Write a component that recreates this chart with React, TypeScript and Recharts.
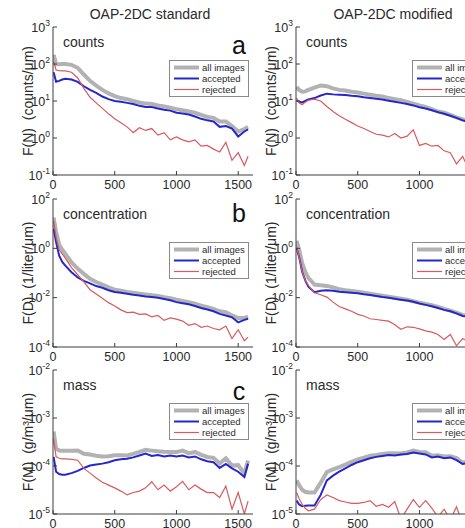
import React from 'react';
import { LineChart, Line, XAxis, YAxis, Legend } from 'recharts';

const FONT = '"Liberation Sans", Arial, Helvetica, sans-serif';
const AXIS_COLOR = '#3c3c3c';
const TEXT_COLOR = '#2a2a2a';

// size bins (µm)
const sizes = [5, 25, 50, 75, 100, 150, 200, 250, 300, 350, 400, 450, 500, 550, 600, 650, 700, 750, 800, 850, 900, 950, 1000, 1050, 1100, 1150, 1200, 1250, 1300, 1350, 1400, 1450, 1500, 1550, 1580];

// OAP-2DC standard
const stdCountsAll = [178, 100, 98, 100, 100, 95, 79, 52, 35, 26, 20, 16, 13.5, 12, 11.2, 10, 9.1, 8.5, 8.3, 7.6, 7.1, 6.6, 6.0, 5.6, 5.2, 4.8, 4.2, 3.7, 3.5, 2.8, 2.8, 2.1, 1.5, 1.75, 2.0];
const stdCountsAcc = [60, 33, 35, 38, 40, 38, 33, 25, 20, 16.6, 13.2, 11.2, 10, 9.5, 8.9, 8.3, 7.4, 6.9, 6.9, 6.3, 5.8, 5.5, 4.8, 4.6, 4.3, 3.8, 3.3, 3.0, 2.8, 2.0, 2.1, 1.8, 1.1, 1.5, 1.7];
const stdCountsRej = [117, 69, 66, 65, 65, 60, 42, 22, 12.6, 8.9, 6.3, 4.5, 3.3, 2.6, 2.0, 1.4, 1.9, 1.6, 1.8, 1.2, 1.4, 0.89, 1.07, 0.89, 0.79, 0.89, 0.6, 0.63, 0.5, 0.42, 0.76, 0.25, 0.4, 0.18, 0.32];

const stdConcAll = [17.8, 4.6, 1.4, 0.88, 0.6, 0.27, 0.15, 0.092, 0.058, 0.043, 0.034, 0.026, 0.021, 0.019, 0.0172, 0.0158, 0.0146, 0.0136, 0.0126, 0.0118, 0.0104, 0.0095, 0.0082, 0.0074, 0.0065, 0.0057, 0.0047, 0.0041, 0.0035, 0.0028, 0.0026, 0.0019, 0.0015, 0.0015, 0.0017];
const stdConcAcc = [6.3, 1.78, 0.5, 0.28, 0.2, 0.107, 0.066, 0.048, 0.038, 0.0295, 0.0251, 0.02, 0.017, 0.0158, 0.0145, 0.0132, 0.0123, 0.0112, 0.0107, 0.01, 0.0089, 0.0079, 0.0066, 0.006, 0.0054, 0.0046, 0.0038, 0.0033, 0.0028, 0.0022, 0.0019, 0.0016, 0.001, 0.00126, 0.0014];
const stdConcRej = [12.6, 2.8, 0.89, 0.6, 0.4, 0.166, 0.085, 0.044, 0.021, 0.0141, 0.0095, 0.0063, 0.0046, 0.0032, 0.0025, 0.0026, 0.0021, 0.0022, 0.00166, 0.0019, 0.0012, 0.0015, 0.00135, 0.00112, 0.00076, 0.00089, 0.00063, 0.00071, 0.00056, 0.0005, 0.00071, 0.00022, 0.0005, 0.00018, 0.00025];

const stdMassAll = [5.25e-4, 2.3e-4, 2.1e-4, 2.07e-4, 2.07e-4, 2.09e-4, 2.1e-4, 1.8e-4, 1.73e-4, 1.63e-4, 1.58e-4, 1.6e-4, 1.67e-4, 1.68e-4, 1.66e-4, 1.79e-4, 1.96e-4, 2.17e-4, 2.09e-4, 2.02e-4, 1.98e-4, 1.96e-4, 1.95e-4, 2.1e-4, 1.83e-4, 1.96e-4, 1.71e-4, 1.54e-4, 1.48e-4, 1.13e-4, 1.45e-4, 1.02e-4, 1.04e-4, 7.0e-5, 1.3e-4];
const stdMassAcc = [1.55e-4, 7.6e-5, 6.8e-5, 6.6e-5, 6.6e-5, 7.1e-5, 7.9e-5, 9.1e-5, 1.02e-4, 1.07e-4, 1.12e-4, 1.2e-4, 1.32e-4, 1.38e-4, 1.41e-4, 1.51e-4, 1.66e-4, 1.82e-4, 1.62e-4, 1.7e-4, 1.58e-4, 1.66e-4, 1.58e-4, 1.66e-4, 1.51e-4, 1.58e-4, 1.38e-4, 1.26e-4, 1.2e-4, 9.1e-5, 1.1e-4, 8.9e-5, 7.6e-5, 5.9e-5, 1.12e-4];
const stdMassRej = [3.7e-4, 1.55e-4, 1.45e-4, 1.41e-4, 1.41e-4, 1.38e-4, 1.32e-4, 8.9e-5, 7.1e-5, 5.6e-5, 4.6e-5, 4.0e-5, 3.5e-5, 3.0e-5, 2.5e-5, 2.8e-5, 3.0e-5, 3.5e-5, 4.7e-5, 3.2e-5, 4.0e-5, 3.0e-5, 3.7e-5, 4.8e-5, 3.2e-5, 4.0e-5, 3.3e-5, 2.8e-5, 2.8e-5, 2.2e-5, 3.8e-5, 1.26e-5, 2.8e-5, 1.0e-5, 1.86e-5];

// OAP-2DC modified
const modCountsAll = [24, 20, 17.8, 18.2, 20, 22.9, 26.3, 25.1, 21.9, 20, 19.1, 17.8, 17, 15.8, 14.8, 13.8, 13.2, 12, 11.2, 10.5, 9.5, 8.5, 7.6, 6.9, 6.0, 5.2, 4.8, 4.2, 3.6, 3.2, 2.8, 2.5, 2.2, 2.0, 1.9];
const modCountsAcc = [10.5, 9.5, 9.1, 10, 11, 12, 14.1, 15.8, 15.1, 14.8, 14.5, 13.8, 13.5, 12.6, 12, 11.5, 11, 10.2, 9.5, 8.9, 8.3, 7.6, 6.8, 6.3, 5.6, 5.0, 4.5, 4.0, 3.5, 3.0, 2.7, 2.4, 2.1, 1.9, 1.8];
const modCountsRej = [12, 8.9, 7.9, 9.3, 10.5, 11.2, 10, 7.1, 5.2, 4.0, 3.2, 2.6, 2.1, 1.8, 1.5, 1.26, 1.2, 1.07, 1.32, 1.0, 1.12, 1.66, 0.63, 0.71, 0.6, 0.63, 0.45, 0.4, 0.2, 0.32, 0.14, 0.4, 0.25, 0.18, 0.28];

const modConcAll = [2.0, 0.9, 0.25, 0.112, 0.063, 0.034, 0.0316, 0.03, 0.0263, 0.0219, 0.02, 0.0186, 0.0174, 0.0158, 0.0145, 0.0132, 0.012, 0.011, 0.01, 0.0091, 0.0083, 0.0072, 0.0063, 0.0056, 0.0049, 0.0042, 0.0035, 0.003, 0.0025, 0.002, 0.0018, 0.0015, 0.0013, 0.00115, 0.00107];
const modConcAcc = [1.0, 0.45, 0.112, 0.05, 0.028, 0.0166, 0.019, 0.02, 0.019, 0.0174, 0.0166, 0.0158, 0.0151, 0.0138, 0.0129, 0.0117, 0.0107, 0.01, 0.0091, 0.0083, 0.0076, 0.0068, 0.0058, 0.0051, 0.0045, 0.0038, 0.0032, 0.0028, 0.0023, 0.0018, 0.00166, 0.0014, 0.00126, 0.0011, 0.001];
const modConcRej = [1.12, 0.45, 0.112, 0.052, 0.0316, 0.0158, 0.0132, 0.0105, 0.0066, 0.0044, 0.0035, 0.0028, 0.0021, 0.0018, 0.0014, 0.0013, 0.0012, 0.00112, 0.00079, 0.00052, 0.00066, 0.00063, 0.00054, 0.00045, 0.0004, 0.00032, 0.0002, 0.00032, 0.000112, 0.00022, 0.00016, 0.0002, 0.000126, 0.00018, 0.00014];

const modMassAll = [5.0e-5, 4.0e-5, 3.2e-5, 2.9e-5, 2.8e-5, 2.8e-5, 4.5e-5, 7.5e-5, 8.5e-5, 9.5e-5, 1.07e-4, 1.22e-4, 1.37e-4, 1.49e-4, 1.64e-4, 1.7e-4, 1.78e-4, 1.84e-4, 1.84e-4, 1.82e-4, 1.91e-4, 2.1e-4, 1.96e-4, 1.93e-4, 1.64e-4, 1.67e-4, 1.58e-4, 1.59e-4, 1.46e-4, 1.16e-4, 1.27e-4, 1.12e-4, 1.09e-4, 9.7e-5, 9.3e-5];
const modMassAcc = [1.9e-5, 1.58e-5, 1.45e-5, 1.48e-5, 1.51e-5, 1.51e-5, 2.5e-5, 5.0e-5, 6.3e-5, 7.6e-5, 8.9e-5, 1.05e-4, 1.2e-4, 1.32e-4, 1.45e-4, 1.55e-4, 1.62e-4, 1.7e-4, 1.66e-4, 1.74e-4, 1.78e-4, 1.91e-4, 1.82e-4, 1.74e-4, 1.51e-4, 1.58e-4, 1.45e-4, 1.51e-4, 1.32e-4, 1.1e-4, 1.17e-4, 1.05e-4, 9.8e-5, 8.9e-5, 8.3e-5];
const modMassRej = [2.8e-5, 2.1e-5, 1.58e-5, 1.32e-5, 1.17e-5, 1.26e-5, 2.0e-5, 2.5e-5, 2.2e-5, 1.9e-5, 1.78e-5, 1.66e-5, 1.66e-5, 1.74e-5, 1.9e-5, 1.45e-5, 1.58e-5, 1.38e-5, 1.82e-5, 7.9e-6, 1.26e-5, 2.0e-5, 1.38e-5, 1.9e-5, 1.32e-5, 8.7e-6, 1.26e-5, 7.6e-6, 1.41e-5, 6.3e-6, 1.0e-5, 7.1e-6, 1.12e-5, 7.9e-6, 1.0e-5];

const xTicks = [0, 500, 1000, 1500];
const countTicks = [0.1, 1, 10, 100, 1000];
const concTicks = [1e-4, 1e-2, 1, 100];
const massTicks = [1e-5, 1e-4, 1e-3, 1e-2];

const series = [
  { key: 'all', name: 'all images', color: '#b2b2b2', width: 4 },
  { key: 'accepted', name: 'accepted', color: '#2626cc', width: 2 },
  { key: 'rejected', name: 'rejected', color: '#d85a60', width: 1.2 },
];

type Row = { size: number; all: number; accepted: number; rejected: number };

const toRows = (all: number[], accepted: number[], rejected: number[]): Row[] =>
  sizes.map((size, i) => ({ size, all: all[i], accepted: accepted[i], rejected: rejected[i] }));

const CHART_W = 270;
const PLOT_L = 53;
const PLOT_W = 200;
const X_AXIS_H = 20;

// matlab-style inward ticks, labels outside
const LeftTick = (props: any) => {
  const { x, y, payload } = props;
  const exp = Math.round(Math.log10(payload.value));
  return (
    <g>
      <line x1={x} y1={y} x2={x + 4} y2={y} stroke={AXIS_COLOR} />
      <text x={x - 3} y={y + 4.5} textAnchor="end" fontSize={12.5} fill={TEXT_COLOR} fontFamily={FONT}>
        10<tspan dy={-6} fontSize={8.5}>{exp}</tspan>
      </text>
    </g>
  );
};

const RightTick = (props: any) => (
  <line x1={props.x} y1={props.y} x2={props.x - 4} y2={props.y} stroke={AXIS_COLOR} />
);

const BottomTick = (props: any) => {
  const { x, y, payload } = props;
  return (
    <g>
      <line x1={x} y1={y} x2={x} y2={y - 4} stroke={AXIS_COLOR} />
      <text x={x} y={y + 14} textAnchor="middle" fontSize={12.5} fill={TEXT_COLOR} fontFamily={FONT}>
        {payload.value}
      </text>
    </g>
  );
};

const TopTick = (props: any) => (
  <line x1={props.x} y1={props.y} x2={props.x} y2={props.y + 4} stroke={AXIS_COLOR} />
);

const LegendBox = () => (
  <div
    style={{
      border: '1px solid #8a8a8a',
      background: '#fff',
      padding: '1px 3px',
      fontFamily: FONT,
      fontSize: 9.5,
      color: TEXT_COLOR,
      lineHeight: '11px',
      whiteSpace: 'nowrap',
    }}
  >
    {series.map((s) => (
      <div key={s.key} style={{ display: 'flex', alignItems: 'center', height: 11 }}>
        <svg width={29} height={11}>
          <line x1={1} y1={5.5} x2={26} y2={5.5} stroke={s.color} strokeWidth={s.width} />
        </svg>
        <span>{s.name}</span>
      </div>
    ))}
  </div>
);

interface PanelProps {
  left: number;
  top: number;
  plotTop: number;
  plotHeight: number;
  rows: Row[];
  domain: [number, number];
  yTicks: number[];
  yTitle: string;
  tag: string;
  legendTop: number;
  letter?: string;
  letterBaseline?: number;
  title?: string;
}

function Panel(p: PanelProps) {
  const height = p.plotTop + p.plotHeight + X_AXIS_H;
  const midY = p.plotTop + p.plotHeight / 2;
  return (
    <div style={{ position: 'absolute', left: p.left, top: p.top }}>
      <LineChart
        width={CHART_W}
        height={height}
        data={p.rows}
        margin={{ top: p.plotTop, right: CHART_W - PLOT_L - PLOT_W, bottom: 0, left: 0 }}
      >
        <XAxis
          dataKey="size"
          type="number"
          domain={[0, 1620]}
          ticks={xTicks}
          interval={0}
          allowDataOverflow
          height={X_AXIS_H}
          tickSize={0}
          tickMargin={0}
          tickLine={false}
          axisLine={{ stroke: AXIS_COLOR }}
          tick={BottomTick}
        />
        <XAxis
          xAxisId="top"
          orientation="top"
          dataKey="size"
          type="number"
          domain={[0, 1620]}
          ticks={xTicks}
          interval={0}
          allowDataOverflow
          height={0}
          tickSize={0}
          tickMargin={0}
          tickLine={false}
          axisLine={{ stroke: AXIS_COLOR }}
          tick={TopTick}
        />
        <YAxis
          scale="log"
          type="number"
          domain={p.domain}
          ticks={p.yTicks}
          interval={0}
          allowDataOverflow
          width={PLOT_L}
          tickSize={0}
          tickMargin={0}
          tickLine={false}
          axisLine={{ stroke: AXIS_COLOR }}
          tick={LeftTick}
        />
        <YAxis
          yAxisId="right"
          orientation="right"
          scale="log"
          type="number"
          domain={p.domain}
          ticks={p.yTicks}
          interval={0}
          allowDataOverflow
          width={0}
          tickSize={0}
          tickMargin={0}
          tickLine={false}
          axisLine={{ stroke: AXIS_COLOR }}
          tick={RightTick}
        />
        <Legend
          layout="vertical"
          align="center"
          verticalAlign="middle"
          content={LegendBox}
          wrapperStyle={{ left: PLOT_L + 116, top: p.plotTop + p.legendTop, width: 'auto', height: 'auto' }}
        />
        {series.map((s) => (
          <Line
            key={s.key}
            type="linear"
            dataKey={s.key}
            name={s.name}
            stroke={s.color}
            strokeWidth={s.width}
            dot={false}
            activeDot={false}
            isAnimationActive={false}
          />
        ))}
        {p.title && (
          <text x={PLOT_L + 97} y={19} textAnchor="middle" fontSize={14} fill={TEXT_COLOR} fontFamily={FONT}>
            {p.title}
          </text>
        )}
        <text x={PLOT_L + 10} y={p.plotTop + 20} fontSize={14} fill={TEXT_COLOR} fontFamily={FONT}>
          {p.tag}
        </text>
        {p.letter && (
          <text
            x={PLOT_L + PLOT_W - 14}
            y={p.plotTop + (p.letterBaseline ?? 27)}
            textAnchor="middle"
            fontSize={25}
            fill="#111"
            fontFamily={FONT}
          >
            {p.letter}
          </text>
        )}
        <text
          x={PLOT_L - 25}
          y={midY}
          transform={`rotate(-90 ${PLOT_L - 25} ${midY})`}
          textAnchor="middle"
          dominantBaseline="central"
          fontSize={14}
          fill={TEXT_COLOR}
          fontFamily={FONT}
        >
          {p.yTitle}
        </text>
      </LineChart>
    </div>
  );
}

const rowsStdCounts = toRows(stdCountsAll, stdCountsAcc, stdCountsRej);
const rowsStdConc = toRows(stdConcAll, stdConcAcc, stdConcRej);
const rowsStdMass = toRows(stdMassAll, stdMassAcc, stdMassRej);
const rowsModCounts = toRows(modCountsAll, modCountsAcc, modCountsRej);
const rowsModConc = toRows(modConcAll, modConcAcc, modConcRej);
const rowsModMass = toRows(modMassAll, modMassAcc, modMassRej);

const countsTitle = 'F(N)\u00a0\u00a0(counts/\u03bcm)';
const concTitle = 'F(D)\u00a0\u00a0(1/liter/\u03bcm)';
const massTitle = 'F(M)\u00a0\u00a0(g/m\u00b3/\u03bcm)';

export default function App() {
  return (
    <div
      style={{
        position: 'absolute',
        left: 0,
        top: 0,
        width: 465,
        height: 528,
        overflow: 'hidden',
        background: '#fff',
        fontFamily: FONT,
      }}
    >
      {/* left column: standard probe */}
      <Panel left={0} top={0} plotTop={27} plotHeight={148} rows={rowsStdCounts} domain={[0.1, 1000]} yTicks={countTicks}
        yTitle={countsTitle} tag="counts" legendTop={33} letter="a" letterBaseline={27} title="OAP-2DC standard" />
      <Panel left={0} top={180} plotTop={19} plotHeight={148} rows={rowsStdConc} domain={[1e-4, 100]} yTicks={concTicks}
        yTitle={concTitle} tag="concentration" legendTop={43} letter="b" letterBaseline={23} />
      <Panel left={0} top={352} plotTop={18} plotHeight={144} rows={rowsStdMass} domain={[1e-5, 1e-2]} yTicks={massTicks}
        yTitle={massTitle} tag="mass" legendTop={33} letter="c" letterBaseline={30} />

      {/* right column: modified probe */}
      <Panel left={243} top={0} plotTop={27} plotHeight={148} rows={rowsModCounts} domain={[0.1, 1000]} yTicks={countTicks}
        yTitle={countsTitle} tag="counts" legendTop={33} title="OAP-2DC modified" />
      <Panel left={243} top={180} plotTop={19} plotHeight={148} rows={rowsModConc} domain={[1e-4, 100]} yTicks={concTicks}
        yTitle={concTitle} tag="concentration" legendTop={43} />
      <Panel left={243} top={352} plotTop={18} plotHeight={144} rows={rowsModMass} domain={[1e-5, 1e-2]} yTicks={massTicks}
        yTitle={massTitle} tag="mass" legendTop={33} />
    </div>
  );
}
